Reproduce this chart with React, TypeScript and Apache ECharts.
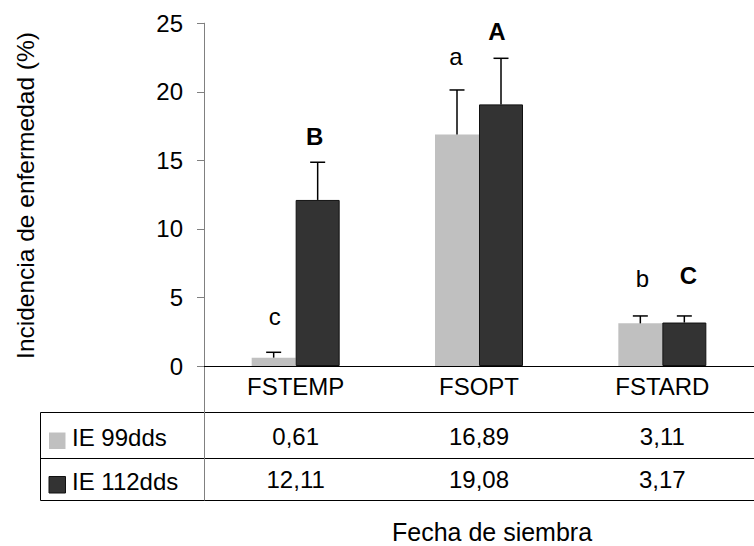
import React, { useEffect, useRef } from "react";
import * as echarts from "echarts";

const categories = ["FSTEMP", "FSOPT", "FSTARD"];
const seriesNames = ["IE 99dds", "IE 112dds"];
const ie99 = [0.61, 16.89, 3.11];
const ie112 = [12.11, 19.08, 3.17];
const ie99Err = [0.39, 3.24, 0.54];
const ie112Err = [2.75, 3.36, 0.48];
const ie99Letters = ["c", "a", "b"];
const ie112Letters = ["B", "A", "C"];
const yMin = 0;
const yMax = 25;
const yStep = 5;
const yTitle = "Incidencia de enfermedad (%)";
const xTitle = "Fecha de siembra";

const FONT = "'Liberation Sans', Arial, Helvetica, sans-serif";
const LIGHT = "#c0c0c0";
const DARK = "#333333";
const BAR_W = 44;
// style: letter placement relative to error-bar cap (px)
const lightLift = [35.5, 33.5, 37.5];
const lightDx = [1, -1, 2];
const darkLift = [26, 27, 40];
const darkDx = [-3, -4, 4];

const fmt = (v: number) => v.toFixed(2).replace(".", ",");

export default function App() {
  const ref = useRef<HTMLDivElement>(null);
  useEffect(() => {
    const el = ref.current!;
    const chart = echarts.init(el, null, { renderer: "svg" });

    const errSeries = (
      vals: number[],
      errs: number[],
      letters: string[],
      offset: number,
      bold: boolean,
      lift: number[],
      dx: number[]
    ) => ({
      type: "custom",
      clip: false,
      z: 5,
      data: vals.map((v, i) => [i, v, errs[i]]),
      renderItem: (params: any, api: any) => {
        const i = api.value(0);
        const v = api.value(1);
        const e = api.value(2);
        const base = api.coord([i, v]);
        const top = api.coord([i, v + e]);
        const x = base[0] + offset;
        const k = params.dataIndex;
        return {
          type: "group",
          children: [
            {
              type: "line",
              shape: { x1: x, y1: base[1], x2: x, y2: top[1] },
              style: { stroke: "#000", lineWidth: 1.5 },
            },
            {
              type: "line",
              shape: { x1: x - 7.5, y1: top[1], x2: x + 7.5, y2: top[1] },
              style: { stroke: "#000", lineWidth: 1.5 },
            },
            {
              type: "text",
              x: x + dx[k],
              y: top[1] - lift[k],
              style: {
                text: letters[k],
                fontSize: 24,
                fontWeight: bold ? "bold" : "normal",
                fontFamily: FONT,
                fill: "#000",
                align: "center",
                verticalAlign: "middle",
              },
            },
          ],
        };
      },
    });

    chart.setOption({
      animation: false,
      grid: { left: 204, right: -10, top: 23.2, bottom: 180 },
      xAxis: {
        type: "category",
        data: categories,
        axisLine: { lineStyle: { color: "#000", width: 1 } },
        axisTick: { show: false },
        axisLabel: {
          fontSize: 24,
          fontFamily: FONT,
          color: "#000",
          margin: 8,
          lineHeight: 24,
        },
      },
      yAxis: {
        type: "value",
        min: yMin,
        max: yMax,
        interval: yStep,
        axisLine: { show: true, lineStyle: { color: "#808080", width: 1 } },
        axisTick: { show: true, length: 7, lineStyle: { color: "#808080" } },
        axisLabel: { fontSize: 24, fontFamily: FONT, color: "#000", margin: 21 },
        splitLine: { show: false },
      },
      series: [
        {
          name: seriesNames[0],
          type: "bar",
          data: ie99,
          barWidth: BAR_W,
          barGap: "0%",
          itemStyle: { color: LIGHT },
        },
        {
          name: seriesNames[1],
          type: "bar",
          data: ie112,
          barWidth: BAR_W,
          barGap: "0%",
          itemStyle: { color: DARK, borderColor: "#111", borderWidth: 1 },
        },
        errSeries(ie99, ie99Err, ie99Letters, -BAR_W / 2, false, lightLift, lightDx),
        errSeries(ie112, ie112Err, ie112Letters, BAR_W / 2, true, darkLift, darkDx),
      ],
    });

    const cx = categories.map((_, i) => chart.convertToPixel({ xAxisIndex: 0 }, i) as number);
    const x0 = chart.convertToPixel({ yAxisIndex: 0 }, 0) as number;

    const txt = (text: string, x: number, y: number, opts: any = {}) => ({
      type: "text",
      x,
      y,
      rotation: opts.rotation || 0,
      silent: true,
      style: {
        text,
        fontSize: opts.size || 24,
        fontFamily: FONT,
        fill: "#000",
        align: opts.align || "center",
        verticalAlign: "middle",
      },
    });
    const ln = (x1: number, y1: number, x2: number, y2: number, stroke = "#000") => ({
      type: "line",
      silent: true,
      shape: { x1, y1, x2, y2 },
      style: { stroke, lineWidth: 1 },
    });

    const rowY = [436.7, 479.5];
    const rows = [ie99, ie112];
    const graphic: any[] = [
      ln(40.5, 412.5, 754, 412.5),
      ln(40.5, 458.5, 754, 458.5),
      ln(40.5, 500.5, 754, 500.5),
      ln(40.5, 412.5, 40.5, 500.5),
      ln(204.5, x0, 204.5, 500.5, "#808080"),
      {
        type: "rect",
        silent: true,
        shape: { x: 49, y: 432.5, width: 16.5, height: 16.5 },
        style: { fill: LIGHT },
      },
      {
        type: "rect",
        silent: true,
        shape: { x: 49, y: 476.5, width: 16.5, height: 16.5 },
        style: { fill: DARK, stroke: "#111", lineWidth: 1 },
      },
      txt(seriesNames[0], 72, 437.7, { align: "left" }),
      txt(seriesNames[1], 72, 481, { align: "left" }),
      txt(xTitle, 492, 531.5, { size: 25 }),
      txt(yTitle, 25, 195.5, { rotation: Math.PI / 2, size: 24.5 }),
    ];
    rows.forEach((r, ri) =>
      r.forEach((v, i) => graphic.push(txt(fmt(v), cx[i], rowY[ri])))
    );
    chart.setOption({ graphic });

    return () => chart.dispose();
  }, []);
  return (
    <div
      ref={ref}
      style={{ position: "fixed", left: 0, top: 0, width: 754, height: 546, background: "#fff" }}
    />
  );
}
